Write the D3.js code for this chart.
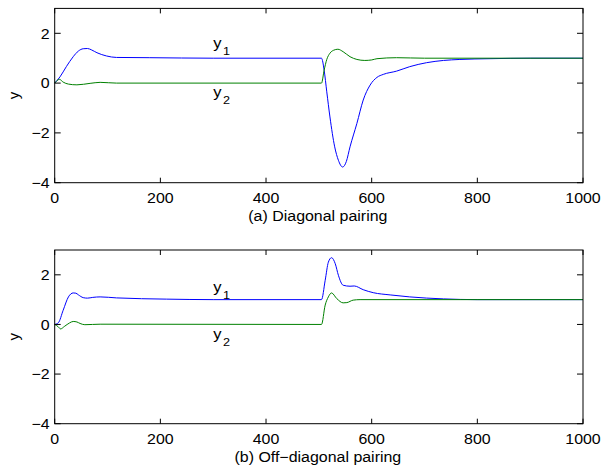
<!DOCTYPE html>
<html><head><meta charset="utf-8">
<script src="https://cdn.jsdelivr.net/npm/d3@7"></script>
<style>
body{margin:0;background:#fff;}
text{font-family:"Liberation Sans",Arial,Helvetica,sans-serif;fill:#000;}
</style></head>
<body><svg id="c" width="605" height="474"></svg>
<script>
// ---- data ----
const xTicks = [0, 200, 400, 600, 800, 1000];
const yTicks = [-4, -2, 0, 2];
const yTickLabels = ["\u22124", "\u22122", "0", "2"];

const diagT1 = [0,10,22,35,45,54,62,70,80,98,117,180,300,505,510,515,521,530,537,545,552,559,572,584,597,610,622,647,672,704,736,767,824,900,1000];
const diagY1 = [0,0.25,0.66,1.06,1.29,1.38,1.39,1.33,1.22,1.09,1.03,1.02,1.0,1.0,0.52,-0.35,-1.36,-2.56,-3.1,-3.37,-3.15,-2.56,-1.62,-0.68,-0.08,0.23,0.35,0.48,0.66,0.82,0.91,0.95,0.98,1.0,1.0];
const diagT2 = [0,9,16,26,42,67,86,117,505,510,515,521,528,536,546,559,572,587,600,610,647,700,1000];
const diagY2 = [0,0.15,0.04,-0.04,-0.07,-0.01,0.03,0.0,0,0.52,0.95,1.2,1.32,1.36,1.26,1.06,0.95,0.91,0.93,0.98,1.02,1.0,1.0];

const offT1 = [0,7,16,26,35,40,45,54,62,72,86,117,212,300,505,512,518,524,531,537,546,559,567,584,603,635,672,736,800,1000];
const offY1 = [0,0.07,0.57,1.11,1.27,1.26,1.19,1.08,1.06,1.09,1.11,1.07,1.02,1.0,1.0,1.78,2.51,2.69,2.45,1.98,1.58,1.54,1.55,1.4,1.28,1.19,1.11,1.03,1.0,1.0];
const offT2 = [0,7,11,19,28,35,42,48,57,86,505,512,518,524,534,546,553,565,578,1000];
const offY2 = [0,-0.1,-0.18,-0.07,0.06,0.12,0.1,0.04,-0.01,0.01,0,0.78,1.11,1.27,1.04,0.87,0.88,0.98,1.0,1.0];

const captions = ["(a) Diagonal pairing", "(b) Off\u2212diagonal pairing"];
const seriesNames = ["1", "2"];
// label anchor positions in data units (t, y)
const labelAnchors = [
  [[300, 1.42], [300, -0.55]],
  [[300, 1.31], [300, -0.59]]
];

// ---- drawing ----
const svg = d3.select("#c");
const panels = [
  {top: 8.4, bottom: 182.7, s1: [diagT1, diagY1], s2: [diagT2, diagY2]},
  {top: 250, bottom: 423.7, s1: [offT1, offY1], s2: [offT2, offY2]}
];
const colors = ["#0000ff", "#008000"];
const L = 54.7, R = 583;
const SX = 1.1, FS = 14.5;

panels.forEach((p, pi) => {
  const x = d3.scaleLinear().domain([0, 1000]).range([L, R]);
  const y = d3.scaleLinear().domain([-4, 3]).range([p.bottom, p.top]);
  const g = svg.append("g");

  const line = d3.line().x(d => x(d[0])).y(d => y(d[1])).curve(d3.curveMonotoneX);
  [p.s1, p.s2].forEach((s, si) => {
    const pts = s[0].map((t, i) => [t, s[1][i]]);
    g.append("path").attr("d", line(pts)).attr("fill", "none")
      .attr("stroke", colors[si]).attr("stroke-width", 1);
  });

  // box
  g.append("rect").attr("x", x(0)).attr("y", y(3)).attr("width", x(1000) - x(0))
    .attr("height", y(-4) - y(3)).attr("fill", "none").attr("stroke", "#000").attr("stroke-width", 1);

  // ticks inside
  xTicks.forEach(t => {
    g.append("line").attr("x1", x(t)).attr("x2", x(t)).attr("y1", y(-4)).attr("y2", y(-4) - 5).attr("stroke", "#000");
    g.append("line").attr("x1", x(t)).attr("x2", x(t)).attr("y1", y(3)).attr("y2", y(3) + 5).attr("stroke", "#000");
    g.append("text").attr("transform", `translate(${x(t)},${y(-4) + 20}) scale(${SX},1)`)
      .attr("text-anchor", "middle").attr("font-size", FS).text(t);
  });
  yTicks.forEach((v, i) => {
    g.append("line").attr("x1", x(0)).attr("x2", x(0) + 6).attr("y1", y(v)).attr("y2", y(v)).attr("stroke", "#000");
    g.append("line").attr("x1", x(1000)).attr("x2", x(1000) - 6).attr("y1", y(v)).attr("y2", y(v)).attr("stroke", "#000");
    g.append("text").attr("transform", `translate(${x(0) - 5},${y(v)}) scale(${SX},1)`)
      .attr("text-anchor", "end").attr("dy", "0.36em").attr("font-size", FS).text(yTickLabels[i]);
  });

  // y label
  g.append("text").attr("transform", `translate(19,${(p.top + p.bottom) / 2}) rotate(-90)`)
    .attr("text-anchor", "middle").attr("font-size", 15).text("y");

  // caption
  g.append("text").attr("transform", `translate(${(L + R) / 2 - 1},${y(-4) + 38}) scale(${SX},1)`)
    .attr("text-anchor", "middle").attr("font-size", FS).text(captions[pi]);

  // series labels
  labelAnchors[pi].forEach((a, si) => {
    const t = g.append("text").attr("transform", `translate(${x(a[0])},${y(a[1])}) scale(${SX},1)`)
      .attr("font-size", 15);
    t.append("tspan").text("y");
    t.append("tspan").attr("font-size", 11.5).attr("dy", 7).attr("dx", 1.5).text(seriesNames[si]);
  });
});
</script></body></html>
